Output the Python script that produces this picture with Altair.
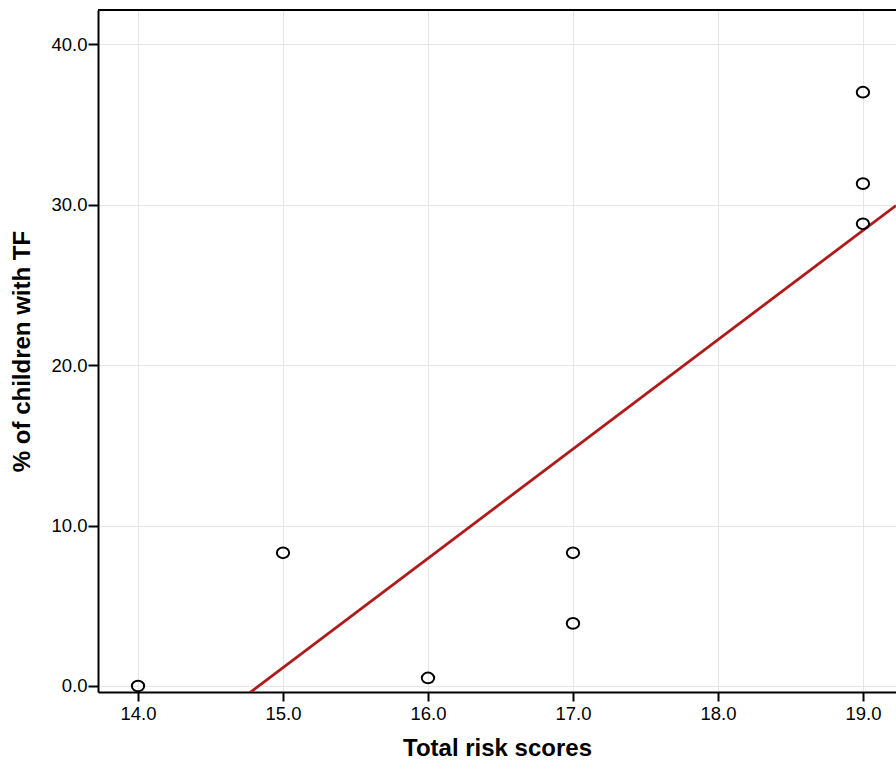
import altair as alt
import pandas as pd

# Data
risk_scores = [14.0, 15.0, 16.0, 17.0, 17.0, 19.0, 19.0, 19.0]
pct_tf = [0.0, 8.3, 0.5, 8.3, 3.9, 37.0, 31.3, 28.8]
x_ticks = [14.0, 15.0, 16.0, 17.0, 18.0, 19.0]
y_ticks = [0.0, 10.0, 20.0, 30.0, 40.0]

df = pd.DataFrame({"score": risk_scores, "pct": pct_tf})

X_DOM = [13.724, 19.228]
Y_DOM = [-0.374, 42.12]

x_enc = alt.X(
    "score:Q",
    scale=alt.Scale(domain=X_DOM, nice=False, zero=False),
    axis=alt.Axis(
        title="Total risk scores",
        values=x_ticks,
        format=".1f",
        labelFontSize=18.5,
        labelFont="Liberation Sans",
        labelColor="black",
        labelPadding=3,
        tickSize=9,
        tickColor="black",
        tickWidth=2,
        domainColor="black",
        domainWidth=2,
        grid=True,
        gridColor="#e6e6e6",
        gridWidth=1,
        titleFont="Liberation Sans",
        titleFontSize=24,
        titleFontWeight="bold",
        titleColor="black",
        titlePadding=14,
        labelFlush=False,
    ),
)
y_enc = alt.Y(
    "pct:Q",
    scale=alt.Scale(domain=Y_DOM, nice=False, zero=False),
    axis=alt.Axis(
        title="% of children with TF",
        values=y_ticks,
        format=".1f",
        labelFontSize=18.5,
        labelFont="Liberation Sans",
        labelColor="black",
        labelPadding=1,
        tickSize=10,
        tickColor="black",
        tickWidth=2,
        domainColor="black",
        domainWidth=2,
        grid=True,
        gridColor="#e6e6e6",
        gridWidth=1,
        titleFont="Liberation Sans",
        titleFontSize=24,
        titleFontWeight="bold",
        titleColor="black",
        titlePadding=16,
        labelFlush=False,
    ),
)

base = alt.Chart(df)

points = base.mark_point(
    shape="M-1.15,0 A1.15,1 0 1,0 1.15,0 A1.15,1 0 1,0 -1.15,0",
    size=115,
    filled=False,
    color="black",
    strokeWidth=2,
    opacity=1,
).encode(x=x_enc, y=y_enc)

fit = base.transform_regression(
    "score", "pct", extent=X_DOM
).mark_line(color="#b01a1a", strokeWidth=2.8, clip=True).encode(
    x="score:Q", y="pct:Q"
)

top_border = alt.Chart(pd.DataFrame({"a": [0]})).mark_rule(
    color="black", strokeWidth=2
).encode(x=alt.value(0), x2=alt.value(800), y=alt.value(0))

chart = (
    alt.layer(fit, points, top_border)
    .properties(
        width=798,
        height=682,
        padding={"left": 98, "top": 10, "right": 0, "bottom": 73},
        autosize=alt.AutoSizeParams(type="none"),
        background="white",
    )
    .configure_view(stroke=None)
)

chart.save("out.html", embed_options={"renderer": "svg", "actions": False})
